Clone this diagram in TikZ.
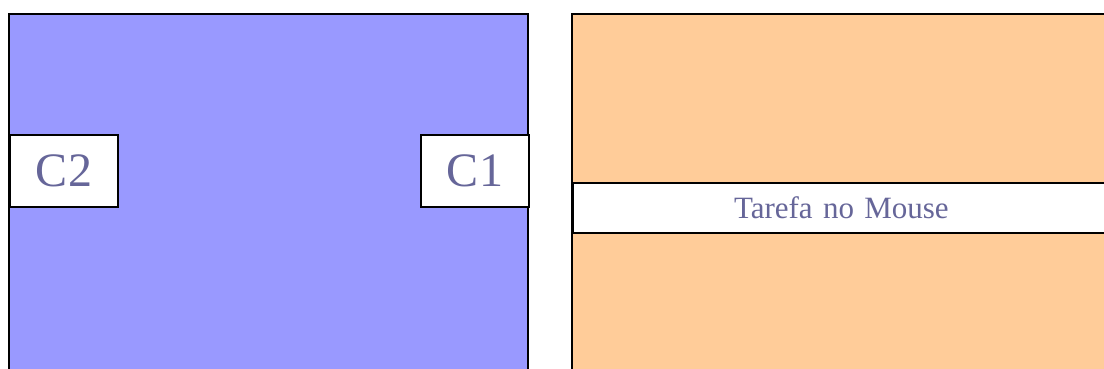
\documentclass[tikz,border=0pt]{standalone}
\usepackage{fontspec}
\setmainfont{Liberation Serif}
\definecolor{panelblue}{HTML}{9999FF}
\definecolor{panelorange}{HTML}{FFCC99}
\definecolor{labelslate}{HTML}{666699}
\tikzset{
  panel/.style={draw=black, line width=2pt},
  labelbox/.style={draw=black, line width=2pt, fill=white, text=labelslate, inner sep=0pt, anchor=north west},
}
\begin{document}
\begin{tikzpicture}[x=1pt,y=-1pt]
\useasboundingbox (0,0) rectangle (1104,368);
\clip (0,0) rectangle (1104,368);
\fill[white] (0,0) rectangle (1104,368);
% left panel
\draw[panel, fill=panelblue] (9,14) rectangle (528,380);
\node[labelbox, minimum width=108pt, minimum height=72pt, font=\fontsize{48}{50}\selectfont] (c2) at (9,134) {C2};
\node[labelbox, minimum width=108pt, minimum height=72pt, font=\fontsize{48}{50}\selectfont] (c1) at (420,134) {C1};
% right panel
\draw[panel, fill=panelorange] (572,14) rectangle (1120,380);
\node[labelbox, minimum width=540pt, minimum height=50pt, text width=530pt, align=left, font=\fontsize{31}{33}\selectfont] (task) at (572,182) {\hspace*{156pt}Tarefa no Mouse};
\end{tikzpicture}
\end{document}
